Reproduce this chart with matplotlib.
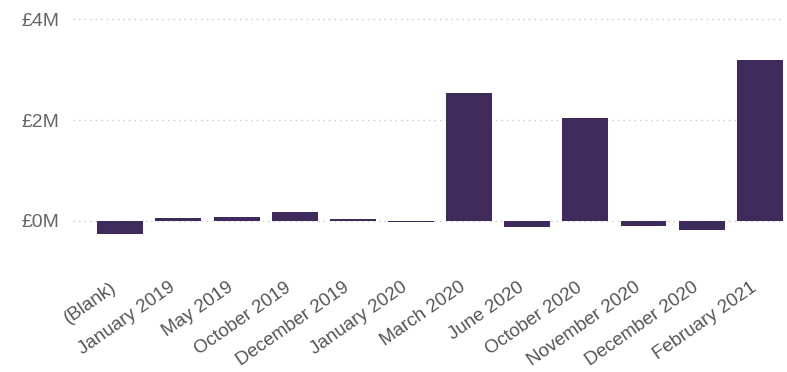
import matplotlib
matplotlib.use("Agg")
import matplotlib.pyplot as plt
import matplotlib.transforms as mtransforms
from matplotlib.ticker import FuncFormatter

# values in millions of pounds
months = ["(Blank)", "January 2019", "May 2019", "October 2019", "December 2019",
          "January 2020", "March 2020", "June 2020", "October 2020",
          "November 2020", "December 2020", "February 2021"]
amounts = [-0.26, 0.05, 0.07, 0.17, 0.04, -0.02, 2.53, -0.11, 2.04, -0.10, -0.17, 3.19]
yticks = [0, 2, 4]

plt.rcParams['font.family'] = ['Liberation Sans', 'DejaVu Sans']

fig = plt.figure(figsize=(7.87, 3.72), dpi=100)
ax = fig.add_axes([0.093, 0.355, 0.902, 0.618])

x = list(range(len(months)))
ax.bar(x, amounts, width=0.79, color="#3f2b5b", zorder=3)

ax.set_xlim(-0.81, 11.4)
ax.set_ylim(-0.376, 4.18)
ax.set_yticks(yticks)
ax.yaxis.set_major_formatter(FuncFormatter(lambda v, p: "£%dM" % v))
ax.grid(axis="y", color="#c8c8c8", linestyle=(0, (1, 3)), linewidth=1.0, zorder=0)

ax.set_xticks(x)
ax.set_xticklabels(months, rotation=35, ha="right", rotation_mode="anchor",
                   fontsize=13.5, color="#555555")
ax.tick_params(axis="y", labelsize=14, colors="#666666", length=0, pad=10)
ax.tick_params(axis="x", length=0, pad=28)

# nudge the rotated labels a little to the left, like the original
shift = mtransforms.ScaledTranslation(-10 / 100, 0, fig.dpi_scale_trans)
for lab in ax.get_xticklabels():
    lab.set_transform(lab.get_transform() + shift)

for s in ax.spines.values():
    s.set_visible(False)

fig.savefig("out.png", dpi=100)
